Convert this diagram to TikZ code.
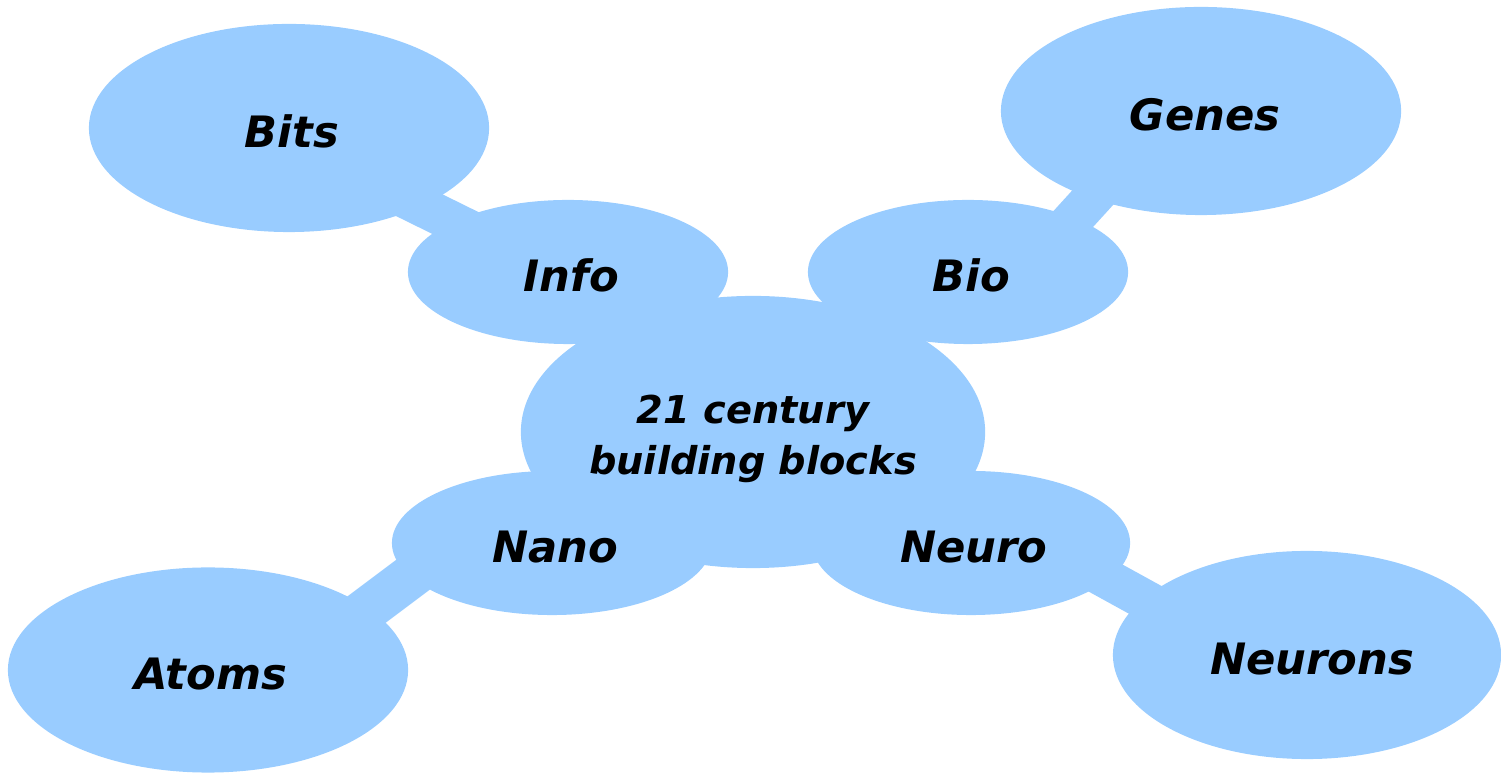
\documentclass[tikz,border=0pt]{standalone}
\usepackage{fontspec}
\setmainfont{DejaVu Sans}
\usetikzlibrary{shapes.geometric,backgrounds}
\definecolor{bluefill}{HTML}{99CCFF}
\begin{document}
\begin{tikzpicture}[x=0.01cm,y=-0.01cm,
  bubble/.style={ellipse,fill=bluefill,draw=none,inner sep=0pt,align=center,
    font=\fontsize{12.3}{14}\selectfont\bfseries\itshape,text height=11.3pt,text depth=0pt},
  link/.style={draw=bluefill,line width=0.4cm}]
\clip (0,0) rectangle (1501,774);
% nodes
\node[bubble,minimum width=4.64cm,minimum height=2.72cm,text height={},text depth={},
  font=\fontsize{10.9}{14.5}\selectfont\bfseries\itshape] (center) at (753,432) {\rule{0pt}{12.3pt}21 century\\ building blocks};
\node[bubble,minimum width=3.2cm,minimum height=1.44cm] (info) at (568,272) {\hspace*{0.06cm}Info};
\node[bubble,minimum width=3.2cm,minimum height=1.44cm] (bio) at (968,272) {\hspace*{0.06cm}Bio};
\node[bubble,minimum width=3.2cm,minimum height=1.44cm] (nano) at (552,543) {\hspace*{0.06cm}Nano};
\node[bubble,minimum width=3.18cm,minimum height=1.44cm] (neuro) at (971,543) {\hspace*{0.06cm}Neuro};
\node[bubble,minimum width=4cm,minimum height=2.08cm] (bits) at (289,128) {\hspace*{0.06cm}Bits};
\node[bubble,minimum width=4cm,minimum height=2.08cm] (genes) at (1201,111) {\hspace*{0.08cm}Genes};
\node[bubble,minimum width=4cm,minimum height=2.05cm] (atoms) at (208,670) {\hspace*{0.06cm}Atoms};
\node[bubble,minimum width=3.88cm,minimum height=2.08cm] (neurons) at (1307,655) {\hspace*{0.1cm}Neurons};
% connectors
\begin{scope}[on background layer]
\draw[link] ([shift={(71,48)}]bits.center) -- ([shift={(-68,-27)}]info.center);
\draw[link] ([shift={(77,-22)}]bio.center) -- ([shift={(-74,49)}]genes.center);
\draw[link,line width=0.44cm] ([shift={(-102,4)}]nano.center) -- ([shift={(122,-33)}]atoms.center);
\draw[link] ([shift={(109,21)}]neuro.center) -- ([shift={(-127,-36)}]neurons.center);
\end{scope}
\end{tikzpicture}
\end{document}
